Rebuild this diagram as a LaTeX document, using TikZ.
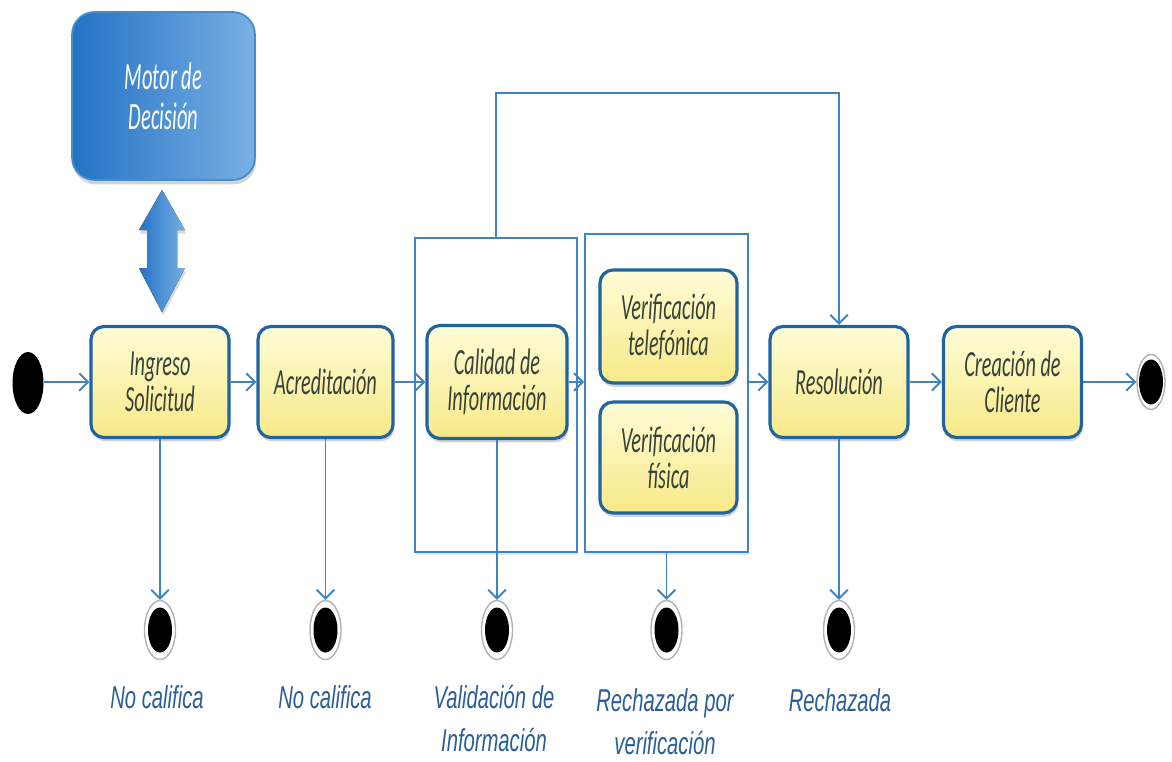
\documentclass[tikz,border=0pt]{standalone}
\usepackage{fontspec}
\setmainfont[FakeStretch=0.55]{Carlito}
\newfontfamily\lblfont[FakeStretch=0.64]{Liberation Sans}
\newfontfamily\motorfont[FakeStretch=0.53]{Carlito}
\usetikzlibrary{shapes.geometric,arrows.meta,shadows,calc}
\definecolor{bxborder}{RGB}{31,100,160}
\definecolor{bxtop}{RGB}{255,252,215}
\definecolor{bxbot}{RGB}{247,233,135}
\definecolor{bxtext}{RGB}{55,66,56}
\definecolor{connc}{RGB}{62,132,192}
\definecolor{lblc}{RGB}{42,94,150}
\definecolor{mleft}{RGB}{36,114,196}
\definecolor{mright}{RGB}{120,176,228}
\definecolor{mborder}{RGB}{70,140,205}
\begin{document}
\begin{tikzpicture}[x=0.02cm,y=-0.02cm,
  actbox/.style={draw=bxborder, line width=1.8pt, rounded corners=0.26cm,
    top color=bxtop, bottom color=bxbot, minimum width=2.76cm, minimum height=2.22cm,
    align=center, text=bxtext, inner sep=2pt,
    font=\fontsize{21}{20.5}\selectfont\itshape,
    drop shadow={shadow xshift=0.6pt, shadow yshift=-2.2pt, opacity=0.35}},
  cont/.style={draw=connc, line width=1.1pt, fill=white,
    drop shadow={shadow xshift=0.5pt, shadow yshift=-1.5pt, opacity=0.2}},
  motor/.style={draw=mborder, line width=1pt, rounded corners=0.45cm,
    left color=mleft, right color=mright, minimum width=3.66cm, minimum height=3.36cm,
    text=white, align=center, font=\motorfont\fontsize{22}{22.7}\selectfont\itshape,
    drop shadow={shadow xshift=0.6pt, shadow yshift=-2.5pt, opacity=0.35}},
  flow/.style={draw=connc, line width=1.1pt, -{Straight Barb[length=5pt,width=10pt]}},
  startc/.style={ellipse, fill=black, minimum width=0.62cm, minimum height=1.24cm, inner sep=0pt},
  endc/.style={ellipse, draw=gray!60, line width=0.8pt, fill=white, minimum width=0.62cm,
    minimum height=1.18cm, inner sep=0pt,
    path picture={\fill[black] (path picture bounding box.center) ellipse (0.24cm and 0.45cm);}},
  lbl/.style={text=lblc, align=center, anchor=base, inner sep=0pt,
    font=\lblfont\fontsize{18}{24}\selectfont\itshape}
]
\useasboundingbox (0,0) rectangle (1172,761);

% containers
\node[cont, minimum width=3.24cm, minimum height=6.28cm] (c1) at (496,395) {};
\node[cont, minimum width=3.26cm, minimum height=6.36cm] (c2) at (666.5,393) {};

% motor and double arrow
\node[motor] (mot) at (163.5,96) {Motor de\\Decisión};
\fill[left color=mleft, right color=mright,
  drop shadow={shadow xshift=0.6pt, shadow yshift=-2pt, opacity=0.3}]
  (162,190) -- (185,230) -- (177,230) -- (177,268) -- (185,268) -- (162,312)
  -- (139,268) -- (147,268) -- (147,230) -- (139,230) -- cycle;

% activity boxes
\node[actbox] (ing) at (160,382) {Ingreso\\Solicitud};
\node[actbox, minimum width=2.7cm] (acr) at (325.5,382) {Acreditación};
\node[actbox, minimum width=2.8cm, minimum height=2.26cm] (cal) at (497,382) {Calidad de\\Información};
\node[actbox, minimum width=2.74cm, minimum height=2.26cm] (vt) at (668.5,326.5) {Verificación\\telefónica};
\node[actbox, minimum width=2.74cm] (vf) at (668.5,457.5) {Verificación\\física};
\node[actbox] (res) at (839,382) {Resolución};
\node[actbox] (cre) at (1012.5,382) {Creación de\\Cliente};

% start / end nodes
\node[startc] (st) at (28,383) {};
\node[endc, minimum width=0.56cm, minimum height=1.1cm] (fin) at (1151,382) {};
\node[endc] (e1) at (160,630) {};
\node[endc] (e2) at (325.5,630) {};
\node[endc] (e3) at (497,630) {};
\node[endc] (e4) at (666.5,630) {};
\node[endc] (e5) at (839,630) {};
\coordinate (loop) at (660,93);

% main flow
\draw[flow] (st.east |- ing.west) -- (ing.west);
\draw[flow] (ing) -- (acr);
\draw[flow] (acr) -- (cal);
\draw[flow] (cal.east) -- (cal.east -| c2.west);
\draw[flow] (c2.east |- res.west) -- (res.west);
\draw[flow] (res) -- (cre);
\draw[flow] (cre) -- (fin);

% exits
\draw[flow] (ing) -- (e1);
\draw[flow] (acr) -- (e2);
\draw[flow] (cal) -- (e3);
\draw[flow] (c2) -- (e4);
\draw[flow] (res) -- (e5);

% loop to resolution
\draw[flow] (c1.north) |- (loop) -| (res.north);

% labels
\node[lbl] (l1) at (157,708) {No califica};
\node[lbl] (l2) at (325,708) {No califica};
\node[lbl] (l3) at (494,751) {Validación de\\Información};
\node[lbl] (l4) at (665,754) {Rechazada por\\verificación};
\node[lbl] (l5) at (840,711) {Rechazada};
\end{tikzpicture}
\end{document}
